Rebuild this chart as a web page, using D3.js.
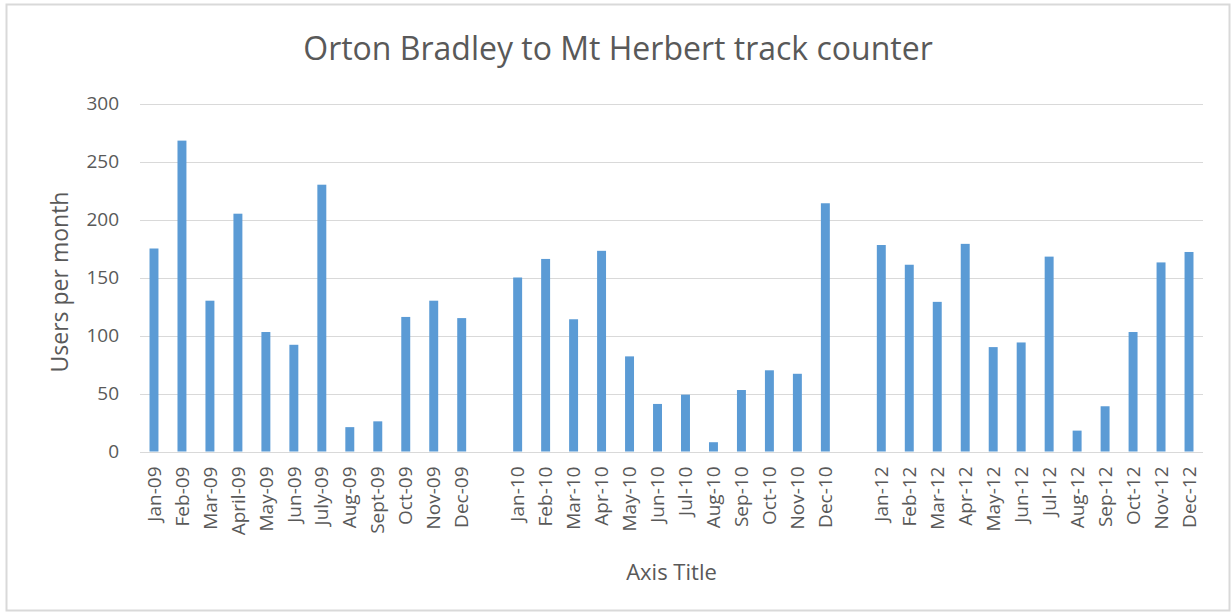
<!DOCTYPE html>
<html>
<head>
<meta charset="utf-8">
<script src="https://cdn.jsdelivr.net/npm/d3@7"></script>
<style>
  html, body { margin: 0; padding: 0; background: #fff; }
  svg { display: block; font-family: "Open Sans", "Noto Sans", sans-serif; }
</style>
</head>
<body>
<svg id="chart" width="1231" height="616"></svg>
<script>
// Monthly counts from the Orton Bradley to Mt Herbert track counter.
// Empty strings are spacer slots between the yearly groups.
const months = [
  "Jan-09", "Feb-09", "Mar-09", "April-09", "May-09", "Jun-09",
  "July-09", "Aug-09", "Sept-09", "Oct-09", "Nov-09", "Dec-09",
  "",
  "Jan-10", "Feb-10", "Mar-10", "Apr-10", "May-10", "Jun-10",
  "Jul-10", "Aug-10", "Sep-10", "Oct-10", "Nov-10", "Dec-10",
  "",
  "Jan-12", "Feb-12", "Mar-12", "Apr-12", "May-12", "Jun-12",
  "Jul-12", "Aug-12", "Sep-12", "Oct-12", "Nov-12", "Dec-12"
];
const users = [
  175, 268, 130, 205, 103, 92, 230, 21, 26, 116, 130, 115,
  null,
  150, 166, 114, 173, 82, 41, 49, 8, 53, 70, 67, 214,
  null,
  178, 161, 129, 179, 90, 94, 168, 18, 39, 103, 163, 172
];
const yTicks = [0, 50, 100, 150, 200, 250, 300];

const chartTitle = "Orton Bradley to Mt Herbert track counter";
const yTitle = "Users per month";
const xTitle = "Axis Title";

const svg = d3.select("#chart");
const W = 1231, H = 616;
const plot = { left: 140, right: 1203, top: 103.5, bottom: 451.5 };
const textColor = "#595959";
const gridColor = "#d9d9d9";
const barColor = "#5b9bd5";

// chart frame
svg.append("rect")
  .attr("x", 6.5).attr("y", 4.5)
  .attr("width", W - 8).attr("height", H - 10)
  .attr("fill", "#fff")
  .attr("stroke", gridColor).attr("stroke-width", 2);

const x = d3.scaleBand()
  .domain(d3.range(months.length))
  .range([plot.left, plot.right])
  .paddingInner(0.68)
  .paddingOuter(0.34);

const y = d3.scaleLinear()
  .domain([0, 300])
  .range([plot.bottom, plot.top]);

// horizontal gridlines
svg.append("g")
  .selectAll("line")
  .data(yTicks)
  .join("line")
  .attr("x1", plot.left).attr("x2", plot.right)
  .attr("y1", d => Math.round(y(d)) + 0.5)
  .attr("y2", d => Math.round(y(d)) + 0.5)
  .attr("stroke", gridColor).attr("stroke-width", 1);

// y axis labels
const yAxis = d3.axisLeft(y).tickValues(yTicks).tickSize(0).tickPadding(0);
const yg = svg.append("g")
  .attr("transform", `translate(${plot.left - 21},0)`)
  .call(yAxis);
yg.select(".domain").remove();
yg.selectAll("text")
  .attr("fill", textColor)
  .style("font-size", "19px")
  .style("font-family", "'Open Sans', sans-serif");

// bars
svg.append("g")
  .selectAll("rect")
  .data(users.map((v, i) => ({ i, v })).filter(d => d.v !== null))
  .join("rect")
  .attr("x", d => x(d.i))
  .attr("width", x.bandwidth())
  .attr("y", d => y(d.v))
  .attr("height", d => y(0) - y(d.v))
  .attr("fill", barColor);

// x axis labels, rotated
const xAxis = d3.axisBottom(x)
  .tickFormat(i => months[i])
  .tickSize(0).tickPadding(0);
const xg = svg.append("g")
  .attr("transform", `translate(0,${plot.bottom})`)
  .call(xAxis);
xg.select(".domain").remove();
xg.selectAll("text")
  .attr("fill", textColor)
  .style("font-size", "19px")
  .style("font-family", "'Open Sans', sans-serif")
  .attr("transform", "rotate(-90)")
  .attr("x", -15)
  .attr("y", 0)
  .attr("dy", "0.35em")
  .attr("text-anchor", "end");

// titles
svg.append("text")
  .attr("x", 618)
  .attr("y", 60)
  .attr("text-anchor", "middle")
  .attr("fill", textColor)
  .style("font-size", "32px")
  .text(chartTitle);

svg.append("text")
  .attr("transform", `translate(68,282) rotate(-90)`)
  .attr("text-anchor", "middle")
  .attr("fill", textColor)
  .style("font-size", "23px")
  .text(yTitle);

svg.append("text")
  .attr("x", (plot.left + plot.right) / 2)
  .attr("y", 580)
  .attr("text-anchor", "middle")
  .attr("fill", textColor)
  .style("font-size", "22px")
  .text(xTitle);
</script>
</body>
</html>
